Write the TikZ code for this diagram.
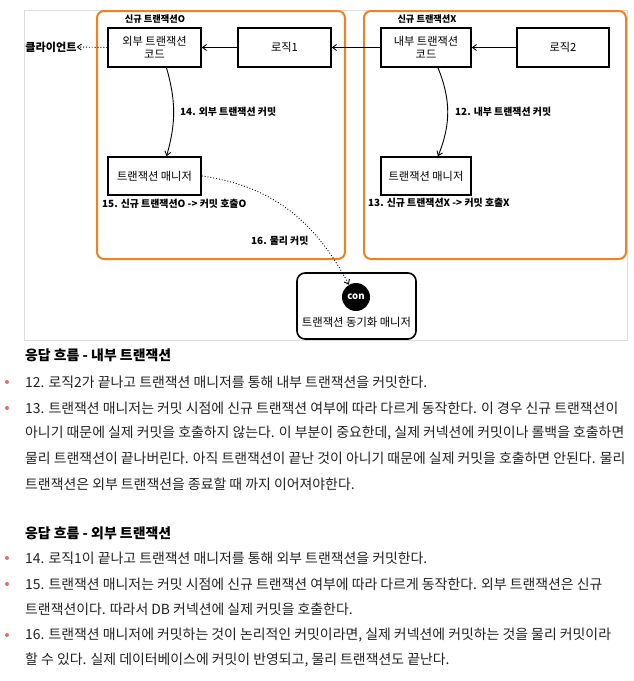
\documentclass[tikz,border=0pt]{standalone}
\usepackage{fontspec}
\setmainfont{Noto Sans CJK KR}
\usetikzlibrary{arrows.meta}
\definecolor{orangeb}{RGB}{240,128,32}
\definecolor{framegray}{RGB}{221,221,221}
\definecolor{bulletc}{RGB}{222,110,120}
\definecolor{bodytext}{RGB}{34,34,34}
\tikzset{
  sbox/.style={draw=black, line width=1.6pt, align=center, inner sep=0pt,
    font=\fontsize{11.2}{13.5}\selectfont},
  obox/.style={draw=orangeb, line width=2pt, rounded corners=7pt},
  blabel/.style={font=\bfseries\fontsize{9.9}{11}\selectfont, inner sep=0pt},
  slabel/.style={font=\bfseries\fontsize{9.2}{10}\selectfont, inner sep=0pt},
  arr/.style={-{Straight Barb[length=4pt,width=6pt]}, line width=0.9pt},
  darr/.style={-{Straight Barb[length=4pt,width=6pt]}, line width=0.9pt, dotted},
  body/.style={anchor=west, inner sep=0pt, text=bodytext, font=\fontsize{13.9}{15}\selectfont},
  head/.style={anchor=west, inner sep=0pt, text=black, font=\bfseries\fontsize{13.9}{15}\selectfont},
  bul/.style={circle, fill=bulletc, inner sep=0pt, minimum size=4pt}
}
\begin{document}
\begin{tikzpicture}[x=1pt,y=-1pt]
\useasboundingbox (0,0) rectangle (633,681);
% frame
\draw[framegray, line width=1pt] (24,10) rectangle (627,340);
% orange boxes
\draw[obox] (97,11) rectangle (345,259);
\draw[obox] (364,11) rectangle (626,259);
% labels
\node[slabel] (newO) at (155,19) {신규 트랜잭션O};
\node[slabel] (newX) at (427,19) {신규 트랜잭션X};
% boxes
\node[sbox, minimum width=93pt, minimum height=39pt] (out1) at (154.5,47.5) {외부 트랜잭션\\코드};
\node[sbox, minimum width=93pt, minimum height=39pt] (logic1) at (284.5,47.5) {로직1};
\node[sbox, minimum width=90pt, minimum height=39pt] (in2) at (426,47.5) {내부 트랜잭션\\코드};
\node[sbox, minimum width=92pt, minimum height=39pt] (logic2) at (563,47.5) {로직2};
\node[sbox, minimum width=93pt, minimum height=38pt] (tm1) at (154.5,176) {트랜잭션 매니저};
\node[sbox, minimum width=90pt, minimum height=38pt] (tm2) at (426,176) {트랜잭션 매니저};
\node[font=\bfseries\fontsize{11.1}{12}\selectfont, inner sep=0pt] (client) at (51,47) {클라이언트};
% sync manager
\draw[black, line width=1.6pt, rounded corners=8pt] (297,273) rectangle (416,339);
\node[circle, fill=black, minimum size=28pt, inner sep=0pt, text=white,
  font=\bfseries\fontsize{9.6}{10}\selectfont] (con) at (356,297) {con};
\node[inner sep=0pt, font=\fontsize{11.3}{12}\selectfont] (sync) at (356.5,322) {트랜잭션 동기화 매니저};
% step labels
\node[blabel, anchor=west] (l14) at (180,112) {14. 외부 트랜잭션 커밋};
\node[blabel, anchor=west] (l12) at (455,112) {12. 내부 트랜잭션 커밋};
\node[blabel, anchor=west] (l15) at (102,204) {15. 신규 트랜잭션O -> 커밋 호출O};
\node[blabel, anchor=west] (l13) at (368,203) {13. 신규 트랜잭션X -> 커밋 호출X};
\node[blabel, anchor=west] (l16) at (251,241) {16. 물리 커밋};
% connectors
\draw[darr] (out1.west) -- (client.east);
\draw[arr] (logic1.west) -- (out1.east);
\draw[arr] (in2.west) -- (logic1.east);
\draw[arr] (logic2.west) -- (in2.east);
\draw[arr] ([xshift=12pt]out1.south) to[bend left=16] ([xshift=12pt]tm1.north);
\draw[arr] ([xshift=12pt]in2.south) to[bend left=22] ([xshift=12pt]tm2.north);
\draw[darr] (tm1.east) to[out=-8, in=118] (con.120);
% text section
\node[head] (h1) at (25,355) {응답 흐름 - 내부 트랜잭션};
\node[bul] (b12) at (7,382) {};
\node[body] (t12) at (25,382) {12. 로직2가 끝나고 트랜잭션 매니저를 통해 내부 트랜잭션을 커밋한다.};
\node[bul] (b13) at (7,408) {};
\node[body] (t13a) at (25,408) {13. 트랜잭션 매니저는 커밋 시점에 신규 트랜잭션 여부에 따라 다르게 동작한다. 이 경우 신규 트랜잭션이};
\node[body] (t13b) at (25,433) {아니기 때문에 실제 커밋을 호출하지 않는다. 이 부분이 중요한데, 실제 커넥션에 커밋이나 롤백을 호출하면};
\node[body] (t13c) at (25,458) {물리 트랜잭션이 끝나버린다. 아직 트랜잭션이 끝난 것이 아니기 때문에 실제 커밋을 호출하면 안된다. 물리};
\node[body] (t13d) at (25,484) {트랜잭션은 외부 트랜잭션을 종료할 때 까지 이어져야한다.};
\node[head] (h2) at (25,533) {응답 흐름 - 외부 트랜잭션};
\node[bul] (b14) at (7,558) {};
\node[body] (t14) at (25,558) {14. 로직1이 끝나고 트랜잭션 매니저를 통해 외부 트랜잭션을 커밋한다.};
\node[bul] (b15) at (7,584) {};
\node[body] (t15a) at (25,584) {15. 트랜잭션 매니저는 커밋 시점에 신규 트랜잭션 여부에 따라 다르게 동작한다. 외부 트랜잭션은 신규};
\node[body] (t15b) at (25,609) {트랜잭션이다. 따라서 DB 커넥션에 실제 커밋을 호출한다.};
\node[bul] (b16) at (7,635) {};
\node[body] (t16a) at (25,635) {16. 트랜잭션 매니저에 커밋하는 것이 논리적인 커밋이라면, 실제 커넥션에 커밋하는 것을 물리 커밋이라};
\node[body] (t16b) at (25,660) {할 수 있다. 실제 데이터베이스에 커밋이 반영되고, 물리 트랜잭션도 끝난다.};
\end{tikzpicture}
\end{document}
